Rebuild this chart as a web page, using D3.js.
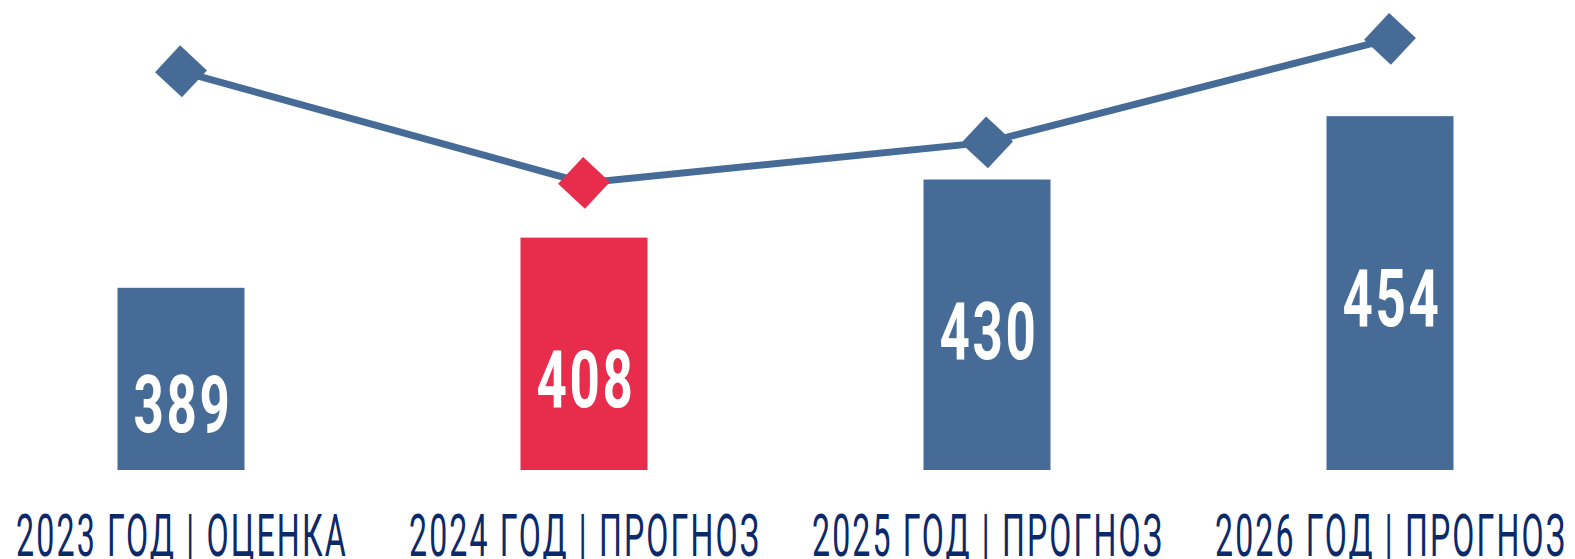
<!DOCTYPE html>
<html>
<head>
<meta charset="utf-8">
<script src="https://cdn.jsdelivr.net/npm/d3@7"></script>
<style>
  html, body { margin: 0; padding: 0; background: #fff; }
  svg { display: block; }
</style>
</head>
<body>
<div id="chart"></div>
<script>
// data
var categories = ["2023 ГОД | ОЦЕНКА", "2024 ГОД | ПРОГНОЗ", "2025 ГОД | ПРОГНОЗ", "2026 ГОД | ПРОГНОЗ"];
var barValues = [389, 408, 430, 454];
var lineValues = [8.86, 6.38, 7.28, 9.58];
var highlight = [false, true, false, false];

var width = 1575, height = 559;
var blue = "#466b97", red = "#e72c4c", navy = "#0c2a6a";

// label baseline distance from the bar bottom (px)
var labelLift = [38, 63, 111, 144];

var svg = d3.select("#chart").append("svg")
    .attr("width", width)
    .attr("height", height);

var xScale = d3.scalePoint()
    .domain(categories)
    .range([181, 1390]);

var yScale = d3.scaleLinear()
    .domain([320, 480])
    .range([470, 47.5]);

var yLine = d3.scaleLinear()
    .domain([0, 10])
    .range([470, 20]);

var barW = 127;

// squeeze a text horizontally to a given width
function squeeze(sel, target, x, y) {
  sel.each(function(d, i) {
    var t = d3.select(this);
    var w = this.getComputedTextLength();
    var k = (typeof target == "function" ? target(d, i) : target) / w;
    t.attr("transform", "translate(" + x(d, i) + "," + y(d, i) + ") scale(" + k + ",1)");
  });
}

// bars
svg.selectAll(".bar")
    .data(barValues)
  .enter().append("rect")
    .attr("class", "bar")
    .attr("x", function(d, i) { return xScale(categories[i]) - barW / 2; })
    .attr("y", function(d) { return yScale(d); })
    .attr("width", barW)
    .attr("height", function(d) { return yScale(320) - yScale(d); })
    .attr("fill", function(d, i) { return highlight[i] ? red : blue; });

// values inside bars
svg.selectAll(".val")
    .data(barValues)
  .enter().append("text")
    .attr("class", "val")
    .attr("text-anchor", "middle")
    .style("font-family", "Roboto, sans-serif")
    .style("font-weight", "bold")
    .style("font-size", "80px")
    .style("letter-spacing", "4px")
    .style("fill", "#fff")
    .text(function(d) { return d; })
    .call(squeeze, 99,
      function(d, i) { return xScale(categories[i]) + 2; },
      function(d, i) { return yScale(320) - labelLift[i]; });

// line
var line = d3.line()
    .x(function(d, i) { return xScale(categories[i]); })
    .y(function(d) { return yLine(d); });

svg.append("path")
    .datum(lineValues)
    .attr("d", line)
    .attr("fill", "none")
    .attr("stroke", blue)
    .attr("stroke-width", 7);

svg.selectAll(".dot")
    .data(lineValues)
  .enter().append("path")
    .attr("class", "dot")
    .attr("d", d3.symbol().type(d3.symbolSquare).size(1350))
    .attr("transform", function(d, i) {
      return "translate(" + xScale(categories[i]) + "," + yLine(d) + ") rotate(43)";
    })
    .attr("fill", function(d, i) { return highlight[i] ? red : blue; });

// category labels
svg.selectAll(".cat")
    .data(categories)
  .enter().append("text")
    .attr("class", "cat")
    .attr("text-anchor", "middle")
    .style("font-family", "Roboto, sans-serif")
    .style("font-weight", "400")
    .style("font-size", "60px")
    .style("letter-spacing", "4px")
    .style("fill", navy)
    .text(function(d) { return d; })
    .call(squeeze, function(d, i) { return i == 0 ? 332 : 352; },
      function(d) { return xScale(d) + 1; },
      function() { return 556; });
</script>
</body>
</html>
